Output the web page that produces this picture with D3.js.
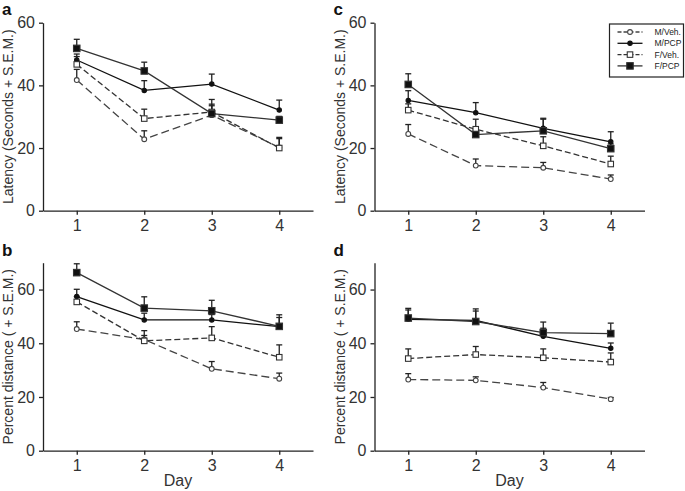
<!DOCTYPE html>
<html>
<head>
<meta charset="utf-8">
<script src="https://cdn.jsdelivr.net/npm/d3@7"></script>
<style>
	body { margin: 0; background: #fff; }
	text { font-family: 'Liberation Sans', Arial, sans-serif; }
	.tick text { font-size: 16px; fill: #333; }
	.axis path, .axis line { stroke: #222; stroke-width: 1.3; }
</style>
</head>
<body>
<div id="chart"></div>
<script>
/*globals d3*/
const days = [1, 2, 3, 4];
const groups = ['M/Veh.', 'M/PCP', 'F/Veh.', 'F/PCP'];
const latencyTicks = [0, 20, 40, 60];
const distanceTicks = [0, 20, 40, 60];

// rows follow groups: M/Veh., M/PCP, F/Veh., F/PCP
const meanA = [[41.7, 22.8, 30.5, 20.2], [48.1, 38.4, 40.4, 32.1], [46.7, 29.4, 31.5, 20.0], [51.8, 44.6, 31.0, 28.9]];
const semA = [[3.4, 2.7, 3.5, 2.8], [1.9, 3.1, 3.2, 3.2], [2.5, 3.0, 4.0, 3.4], [2.9, 2.8, 2.5, 1.2]];
const meanB = [[45.3, 41.4, 30.5, 26.8], [57.4, 48.7, 48.7, 46.2], [55.4, 40.9, 42.0, 34.8], [66.3, 53.1, 52.1, 46.3]];
const semB = [[2.7, 1.5, 2.7, 2.1], [2.7, 2.5, 2.0, 3.4], [2.0, 3.8, 4.2, 4.6], [3.3, 4.2, 3.9, 4.3]];
const meanC = [[24.5, 14.4, 13.7, 10.1], [35.2, 31.3, 26.3, 22.0], [32.1, 26.0, 20.7, 14.9], [40.3, 24.3, 25.5, 19.8]];
const semC = [[3.0, 2.1, 1.7, 1.3], [3.1, 3.2, 3.2, 3.2], [2.0, 3.2, 2.9, 2.5], [3.4, 1.5, 3.7, 1.5]];
const meanD = [[26.5, 26.2, 23.5, 19.2], [48.9, 48.5, 42.6, 38.1], [34.3, 35.8, 34.6, 33.0], [49.4, 48.1, 44.0, 43.6]];
const semD = [[2.2, 1.3, 1.9, 0.6], [3.5, 3.5, 3.0, 2.0], [3.6, 3.0, 3.3, 3.4], [3.6, 4.7, 3.9, 3.9]];

var figure = function() {
	'use strict';
	let svg;
	const width = 685, height = 491;
	const dark = '#222';
	// line + marker style for each group
	const styles = [
		{ dash: '8,4', shape: 'circle', fill: '#fff', color: '#444' },
		{ dash: null, shape: 'circle', fill: '#111', color: '#111' },
		{ dash: '6,3', shape: 'square', fill: '#fff', color: '#333' },
		{ dash: null, shape: 'square', fill: '#111', color: '#333' }
	];

	function drawMarker(g, cx, cy, st) {
		if (st.shape === 'circle') {
			g.append('circle')
				.attr('cx', cx).attr('cy', cy)
				.attr('r', st.fill === '#fff' ? 2.4 : 2.2)
				.style('fill', st.fill).style('stroke', st.color).style('stroke-width', 1.1);
		} else {
			const s = st.fill === '#fff' ? 5.5 : 6.5;
			g.append('rect')
				.attr('x', cx - s / 2).attr('y', cy - s / 2)
				.attr('width', s).attr('height', s)
				.style('fill', st.fill).style('stroke', st.color).style('stroke-width', 1.1);
		}
	}

	function drawPanel(p) {
		const x = d3.scaleLinear().domain([0.5, 4.5]).range([p.left, p.left + 270]);
		const y = d3.scaleLinear().domain([0, p.yMax]).range([p.bottom, p.top]);
		const g = svg.append('g');

		g.append('g').attr('class', 'axis')
			.attr('transform', 'translate(0,' + p.bottom + ')')
			.call(d3.axisBottom(x).tickValues(days).tickFormat(d3.format('d'))
				.tickSize(4).tickSizeOuter(0).tickPadding(5));
		g.append('g').attr('class', 'axis')
			.attr('transform', 'translate(' + p.left + ',0)')
			.call(d3.axisLeft(y).tickValues(p.ticks).tickSize(4).tickSizeOuter(0).tickPadding(4));

		// y label
		g.append('text')
			.attr('transform', 'translate(' + (p.left - 30) + ',' + ((p.top + p.bottom) / 2) + ') rotate(-90)')
			.style('text-anchor', 'middle').style('font-size', '14px').style('fill', '#333')
			.text(p.yLabel);
		// panel letter
		g.append('text')
			.attr('x', p.left - 41).attr('y', p.letterY)
			.style('font-size', '17px').style('font-weight', 'bold').style('fill', '#111')
			.text(p.letter);
		if (p.xLabel) {
			g.append('text')
				.attr('x', x(2.5)).attr('y', p.bottom + 35)
				.style('text-anchor', 'middle').style('font-size', '16px').style('fill', '#333')
				.text('Day');
		}

		const line = d3.line().x((d, i) => x(days[i])).y(d => y(d));
		p.mean.forEach(function(row, k) {
			const st = styles[k];
			g.append('path').datum(row)
				.attr('d', line)
				.style('fill', 'none').style('stroke', st.color).style('stroke-width', 1.3)
				.style('stroke-dasharray', st.dash);
		});
		p.mean.forEach(function(row, k) {
			row.forEach(function(v, i) {
				const cx = x(days[i]);
				const yTop = y(v + p.sem[k][i]);
				g.append('line').attr('x1', cx).attr('x2', cx)
					.attr('y1', y(v)).attr('y2', yTop)
					.style('stroke', dark).style('stroke-width', 1.3);
				g.append('line').attr('x1', cx - 3).attr('x2', cx + 3)
					.attr('y1', yTop).attr('y2', yTop)
					.style('stroke', dark).style('stroke-width', 1.3);
			});
		});
		p.mean.forEach(function(row, k) {
			row.forEach(function(v, i) {
				drawMarker(g, x(days[i]), y(v), styles[k]);
			});
		});
	}

	function drawLegend(lx, ly) {
		const g = svg.append('g').attr('transform', 'translate(' + lx + ',' + ly + ')');
		g.append('rect').attr('width', 74).attr('height', 53)
			.style('fill', '#fff').style('stroke', dark).style('stroke-width', 1.2);
		groups.forEach(function(name, k) {
			const st = styles[k];
			const yy = 8 + k * 11.3;
			g.append('line').attr('x1', 8).attr('x2', 33).attr('y1', yy).attr('y2', yy)
				.style('stroke', st.color).style('stroke-width', 1.3)
				.style('stroke-dasharray', st.dash ? '4,2' : null);
			drawMarker(g, 20.5, yy, st);
			g.append('text').attr('x', 45).attr('y', yy + 3)
				.style('font-size', '8.5px').style('fill', '#222')
				.text(name);
		});
	}

	return {
		render: function(idSelector) {
			svg = d3.select('#' + idSelector).append('svg')
				.attr('width', width).attr('height', height);
			drawPanel({ left: 43, top: 22.7, bottom: 210.7, yMax: 60, ticks: latencyTicks,
				mean: meanA, sem: semA, letter: 'a', letterY: 15, yLabel: 'Latency (Seconds + S.E.M.)' });
			drawPanel({ left: 374.5, top: 22.7, bottom: 210.7, yMax: 60, ticks: latencyTicks,
				mean: meanC, sem: semC, letter: 'c', letterY: 15, yLabel: 'Latency (Seconds + S.E.M.)' });
			drawPanel({ left: 43, top: 262.7, bottom: 450.7, yMax: 70, ticks: distanceTicks,
				mean: meanB, sem: semB, letter: 'b', letterY: 256, yLabel: 'Percent distance ( + S.E.M.)', xLabel: true });
			drawPanel({ left: 374.5, top: 262.7, bottom: 450.7, yMax: 70, ticks: distanceTicks,
				mean: meanD, sem: semD, letter: 'd', letterY: 256, yLabel: 'Percent distance ( + S.E.M.)', xLabel: true });
			drawLegend(609.5, 24);
		}
	};
};

figure().render('chart');
</script>
</body>
</html>
